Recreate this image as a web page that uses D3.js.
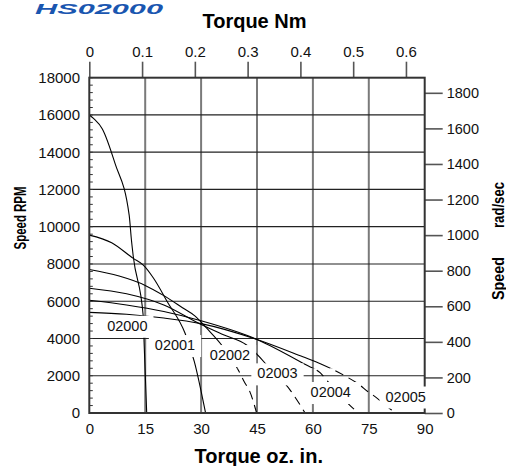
<!DOCTYPE html>
<html>
<head>
<meta charset="utf-8">
<script src="https://cdn.jsdelivr.net/npm/d3@7"></script>
<style>
  html, body { margin: 0; padding: 0; background: #fff; }
  svg { display: block; font-family: "Liberation Sans", Arial, sans-serif; }
</style>
</head>
<body>
<svg id="chart" width="506" height="466"></svg>
<script>
// ---------- data ----------
const torqueTicksOz = [0, 15, 30, 45, 60, 75, 90];
const torqueTicksNm = [0, 0.1, 0.2, 0.3, 0.4, 0.5, 0.6];
const speedTicksRpm = [0, 2000, 4000, 6000, 8000, 10000, 12000, 14000, 16000, 18000];
const speedTicksRad = [0, 200, 400, 600, 800, 1000, 1200, 1400, 1600, 1800];
const motors = ["02000", "02001", "02002", "02003", "02004", "02005"];

// [torque oz-in, speed RPM]
const curve02000 = [[0,16000],[1.2,15800],[3.5,15250],[6.9,13400],[10.7,10620],[11.3,9300],[11.8,8400],[14.5,5150],[14.7,3800],[15.4,0]];
const curve02001 = [[0,9550],[6,9140],[11.8,8300],[14.5,7940],[17.2,7250],[21,5950],[25.7,4280],[28.2,2750],[31.2,0]];
const curve02002 = [[0,7700],[8,7350],[15,6850],[20,6300],[25,5650],[28.4,5200],[31.5,4550],[35.5,3650],[40,2300],[41.8,1600],[42.9,1230],[44.9,0]];
const curve02003 = [[0,6700],[10,6400],[20,5800],[30,4750],[36,4200],[42.2,3650],[47.2,2670],[48,2480],[53.9,1230],[57.9,0]];
const curve02004 = [[0,6050],[10,5800],[20,5450],[30,4950],[45,3950],[58,2600],[62,2150],[64.6,1550],[70.8,250],[72.2,0]];
const curve02005 = [[0,5400],[10,5300],[20,5100],[30,4800],[45,3950],[57.3,3020],[62,2650],[69,1950],[72.6,1500],[74.8,1140],[76.1,965],[81.1,160],[82.3,0]];
const curves = [curve02000, curve02001, curve02002, curve02003, curve02004, curve02005];

// label anchor (torque oz-in, speed RPM) of each curve's name
const labelAnchors = [[10.2,4415],[23.0,3380],[37.75,2843],[50.5,1860],[64.8,858],[84.9,617]];

const OZIN_PER_NM = 141.612;
const RAD_PER_RPM = 2 * Math.PI / 60;
const dashedMotors = ["02002", "02003", "02004", "02005"];
const dashBelowRpm = 2400;

// ---------- layout ----------
const svg = d3.select("#chart");
const L = 89.3, R = 424.7, T = 77.7, B = 413;

const x = d3.scaleLinear().domain([0, 90]).range([L, R]);
const y = d3.scaleLinear().domain([0, 18000]).range([B, T]);
const xNm = d3.scaleLinear().domain([0, 90 / OZIN_PER_NM]).range([L, R]);
const yRad = d3.scaleLinear().domain([0, 18000 * RAD_PER_RPM]).range([B, T]);

// title
svg.append("text").attr("x", 35).attr("y", 14)
  .attr("font-size", 15).attr("font-weight", "bold").attr("font-style", "italic")
  .attr("textLength", 128).attr("lengthAdjust", "spacingAndGlyphs")
  .attr("fill", "#1a56b0").text("HS02000");

svg.append("text").attr("x", 254.5).attr("y", 28)
  .attr("text-anchor", "middle").attr("font-size", 20).attr("font-weight", "bold")
  .text("Torque Nm");

svg.append("text").attr("x", 258.7).attr("y", 463)
  .attr("text-anchor", "middle").attr("font-size", 20).attr("font-weight", "bold")
  .text("Torque oz. in.");

svg.append("text").attr("transform", "translate(25.5,218) rotate(-90)")
  .attr("text-anchor", "middle").attr("font-size", 17).attr("font-weight", "bold")
  .attr("textLength", 63).attr("lengthAdjust", "spacingAndGlyphs")
  .text("Speed RPM");

svg.append("text").attr("transform", "translate(504,278.5) rotate(-90)")
  .attr("text-anchor", "middle").attr("font-size", 16).attr("font-weight", "bold")
  .attr("textLength", 43).attr("lengthAdjust", "spacingAndGlyphs")
  .text("Speed");
svg.append("text").attr("transform", "translate(504,205) rotate(-90)")
  .attr("text-anchor", "middle").attr("font-size", 16).attr("font-weight", "bold")
  .attr("textLength", 46).attr("lengthAdjust", "spacingAndGlyphs")
  .text("rad/sec");

// grid
const grid = svg.append("g");
grid.selectAll("line.v").data(torqueTicksOz.filter(d => d > 0 && d < 90)).join("line")
  .attr("x1", d => x(d)).attr("x2", d => x(d)).attr("y1", T).attr("y2", B)
  .attr("stroke", "#7a7a7a").attr("stroke-width", 2);
grid.selectAll("line.h").data(speedTicksRpm.filter(d => d > 0 && d < 18000)).join("line")
  .attr("x1", L).attr("x2", R).attr("y1", d => y(d)).attr("y2", d => y(d))
  .attr("stroke", "#222").attr("stroke-width", 1.2);

// minor ticks on left axis
grid.selectAll("line.m").data(d3.range(0, 18001, 400)).join("line")
  .attr("x1", L).attr("x2", L + 3.5).attr("y1", d => y(d)).attr("y2", d => y(d))
  .attr("stroke", "#333").attr("stroke-width", 1);

// axes
const axTop = svg.append("g").attr("transform", `translate(0,${T})`)
  .call(d3.axisTop(xNm).tickValues(torqueTicksNm).tickSize(16).tickPadding(5)
    .tickFormat(d => d === 0 ? "0" : d3.format(".1f")(d)));
const axLeft = svg.append("g").attr("transform", `translate(${L},0)`)
  .call(d3.axisLeft(y).tickValues(speedTicksRpm).tickSize(0).tickPadding(9.3).tickFormat(d3.format("d")));
const axBottom = svg.append("g").attr("transform", `translate(0,${B})`)
  .call(d3.axisBottom(x).tickValues(torqueTicksOz).tickSize(0).tickPadding(10));
const axRight = svg.append("g").attr("transform", `translate(${R},0)`)
  .call(d3.axisRight(yRad).tickValues(speedTicksRad).tickSize(18).tickPadding(4).tickFormat(d3.format("d")));

[axTop, axLeft, axBottom, axRight].forEach(a => {
  a.select(".domain").remove();
  a.selectAll("text").attr("font-size", 15).attr("fill", "#111")
    .attr("font-family", "'Liberation Sans', Arial, sans-serif");
  a.selectAll(".tick line").attr("stroke", "#555").attr("stroke-width", 1.6);
});
axRight.selectAll("text").attr("font-size", 14.5);

// clip paths for solid / dashed parts
const defs = svg.append("defs");
defs.append("clipPath").attr("id", "above")
  .append("rect").attr("x", 0).attr("y", 0).attr("width", 506).attr("height", y(dashBelowRpm));
defs.append("clipPath").attr("id", "below")
  .append("rect").attr("x", 0).attr("y", y(dashBelowRpm)).attr("width", 506).attr("height", 466 - y(dashBelowRpm));

const line = d3.line().x(d => x(d[0])).y(d => y(d[1])).curve(d3.curveMonotoneX);

const curveG = svg.append("g");
motors.forEach((m, i) => {
  const dashed = dashedMotors.includes(m);
  if (dashed) {
    curveG.append("path").attr("d", line(curves[i])).attr("fill", "none")
      .attr("stroke", "#000").attr("stroke-width", 1.1).attr("clip-path", "url(#above)");
    curveG.append("path").attr("d", line(curves[i])).attr("fill", "none")
      .attr("stroke", "#000").attr("stroke-width", 1.1).attr("stroke-dasharray", "9,6")
      .attr("clip-path", "url(#below)");
  } else {
    curveG.append("path").attr("d", line(curves[i])).attr("fill", "none")
      .attr("stroke", "#000").attr("stroke-width", 1.1);
  }
});

// frame
svg.append("rect").attr("x", L).attr("y", T).attr("width", R - L).attr("height", B - T)
  .attr("fill", "none").attr("stroke", "#333").attr("stroke-width", 2);

// curve labels with white boxes
const labG = svg.append("g");
motors.forEach((m, i) => {
  const g = labG.append("g");
  const t = g.append("text").attr("x", x(labelAnchors[i][0])).attr("y", y(labelAnchors[i][1]))
    .attr("text-anchor", "middle").attr("font-size", 14.5).attr("fill", "#111").text(m);
  const bb = t.node().getBBox();
  g.insert("rect", "text").attr("x", bb.x - 6).attr("y", bb.y - 2)
    .attr("width", bb.width + 12).attr("height", bb.height + 6).attr("fill", "#fff");
});
</script>
</body>
</html>
